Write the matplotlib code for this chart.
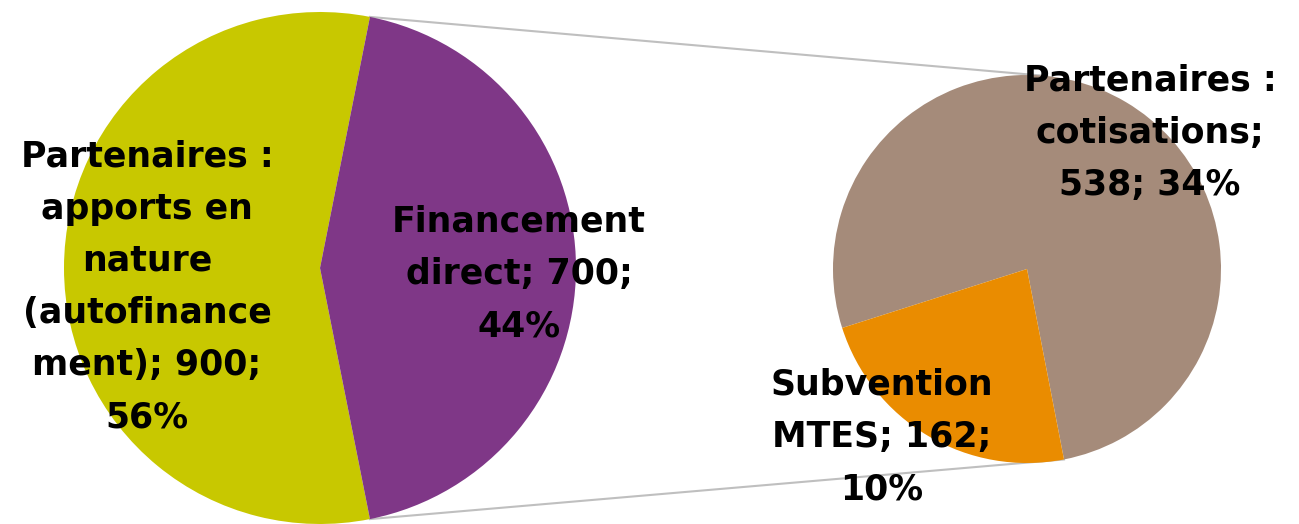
import matplotlib
matplotlib.use("Agg")
import matplotlib.pyplot as plt
import numpy as np

# Data
main_labels = ["Partenaires :\napports en\nnature\n(autofinance\nment); 900;\n56%",
               "Financement\ndirect; 700;\n44%"]
main_values = [900, 700]
sub_labels = ["Partenaires :\ncotisations;\n538; 34%",
              "Subvention\nMTES; 162;\n10%"]
sub_values = [538, 162]

main_colors = ["#C8C800", "#7F3787"]
sub_colors = ["#A58B7A", "#EA8C00"]

W, H = 1299, 524
fig = plt.figure(figsize=(W / 100, H / 100), dpi=100)
ax = fig.add_axes([0, 0, 1, 1])

c1, r1 = (320, 256), 256
c2, r2 = (1027, 255), 194

total = sum(main_values)
purple_span = 360 * main_values[1] / total
start1 = purple_span / 2
ax.pie(main_values, colors=main_colors, center=c1, radius=r1,
       startangle=start1, counterclock=True, frame=True,
       wedgeprops=dict(linewidth=0))

start2 = 281
ax.pie(sub_values, colors=sub_colors, center=c2, radius=r2,
       startangle=start2, counterclock=True, frame=True,
       wedgeprops=dict(linewidth=0))
ax.set_xlim(0, W)
ax.set_ylim(0, H)
ax.set_aspect("equal")
ax.axis("off")

# connector lines
a1 = np.deg2rad(start1)
p_top = (c1[0] + r1 * np.cos(a1), c1[1] + r1 * np.sin(a1))
p_bot = (c1[0] + r1 * np.cos(-a1), c1[1] + r1 * np.sin(-a1))
q_top = (c2[0] + r2 * np.cos(np.deg2rad(84)), c2[1] + r2 * np.sin(np.deg2rad(84)))
q_bot = (c2[0] + r2 * np.cos(np.deg2rad(start2)), c2[1] + r2 * np.sin(np.deg2rad(start2)))
ax.plot([p_top[0], q_top[0]], [p_top[1], q_top[1]], color="#BFBFBF", lw=1.5, zorder=0.5)
ax.plot([p_bot[0], q_bot[0]], [p_bot[1], q_bot[1]], color="#BFBFBF", lw=1.5, zorder=0.5)

fs = 25
ls = 1.67
kw = dict(ha="center", va="center", fontsize=fs, fontweight="bold",
          linespacing=ls, color="black", family="DejaVu Sans")
ax.text(147, 237, main_labels[0], **kw)
ax.text(519, 250, main_labels[1], **kw)
ax.text(1150, 391, sub_labels[0], **kw)
ax.text(882, 87, sub_labels[1], **kw)

fig.savefig("out.png", dpi=100)
